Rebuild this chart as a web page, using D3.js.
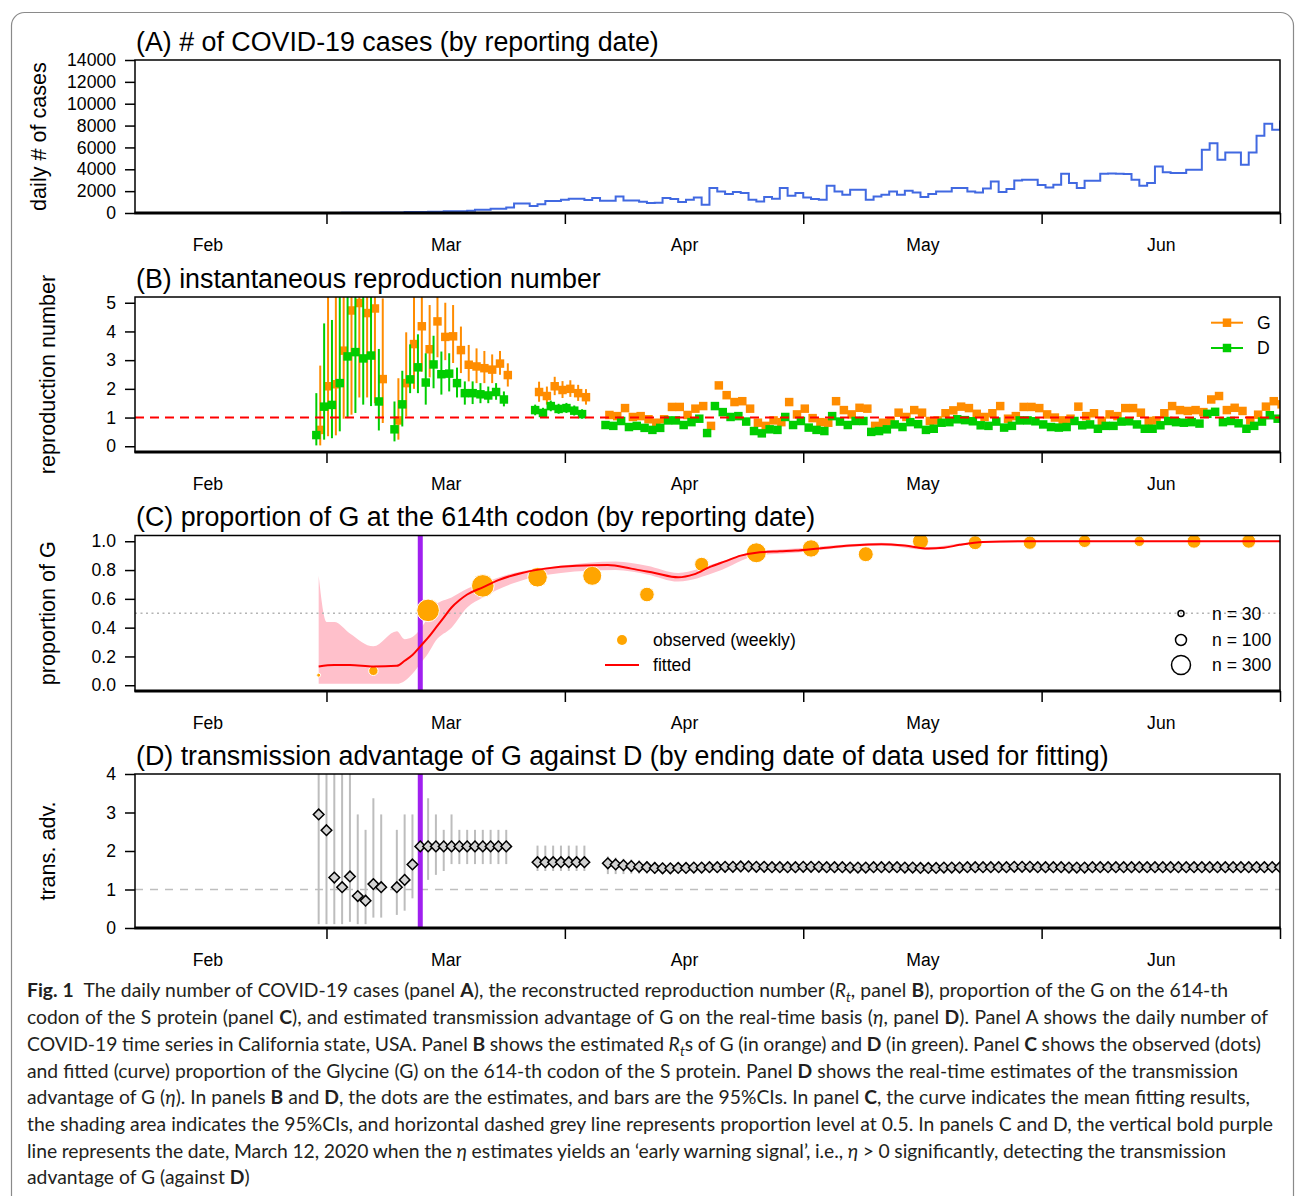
<!DOCTYPE html>
<html><head><meta charset="utf-8">
<script src="https://cdn.jsdelivr.net/npm/d3@7"></script>
<style>
body{margin:0;background:#fff}
</style></head><body>
<svg id="fig" width="1295" height="1196" xmlns="http://www.w3.org/2000/svg"></svg>
<script>
// ---------------- DATA ----------------
// x axis (day of year 2020, Jan 1 = 1)
const tickDays = [60, 90.5, 121, 151.5, 182];
const monthLabelDays = [44.75, 75.25, 105.75, 136.25, 166.75];
const monthLabels = ["Feb", "Mar", "Apr", "May", "Jun"];
const warningDay = 72; // March 12, 2020

// (A) daily cases, days 46..182
const caseStartDay = 46;
const cases = [0,0,0,0,0,0,1,0,2,1,3,2,4,5,8,10,12,16,20,26,34,
 50,50,50,90,90,90,120,120,150,150,150,210,300,300,390,390,510,880,880,640,790,
 1100,1100,1210,1300,1300,1190,1370,1120,1120,1520,1150,1150,1030,910,940,1370,1280,1000,1210,1420,760,
 2280,1970,1730,1920,1830,1210,1060,1460,1310,2280,1580,1830,1420,1280,1210,2490,1970,1670,2130,2130,1210,
 1520,1670,1970,1670,2040,1880,1460,1730,1970,1970,2280,2280,1970,1880,2250,2890,1920,2190,2980,3040,3040,
 2560,2340,2590,3590,2740,2280,2950,2950,3590,3620,3590,3560,3040,2490,2740,4260,3740,3650,3650,3950,3950,
 5780,6390,4870,5530,5530,4410,5530,7060,8160,7610,8460];
const aTicks = [0,2000,4000,6000,8000,10000,12000,14000];

// (B) reproduction numbers (days with estimates)
const estDays = [].concat(d3.range(59,68), d3.range(69,84), d3.range(87,94), d3.range(96,183));
const rG = [0.57,2.09,2.16,3.33,4.73,4.99,4.64,4.80,2.34,
 0.90,2.20,3.56,4.18,3.38,4.35,3.81,3.83,3.35,2.84,2.78,2.72,2.67,2.88,2.48,
 1.89,1.75,2.09,1.96,2.00,1.85,1.71,
 1.09,1.05,1.33,1.02,1.05,0.94,0.82,0.94,1.37,1.37,1.09,1.31,1.40,0.71,2.12,1.78,1.54,1.57,1.31,0.82,0.71,0.90,0.84,1.54,1.11,1.31,0.98,0.84,0.82,1.57,1.26,1.11,1.34,1.31,0.71,0.82,0.88,1.17,1.02,1.26,1.17,0.88,0.90,
 1.15,1.25,1.38,1.33,1.13,1.02,1.15,1.40,0.96,1.05,1.37,1.37,1.33,1.11,1.00,0.90,0.96,1.38,1.05,1.15,0.88,1.11,1.05,1.33,1.33,1.17,0.88,0.90,1.15,1.40,1.26,1.23,1.26,1.19,1.63,1.75,1.26,1.34,1.23,0.90,1.10,1.38,1.57,1.46];
const rD = [0.39,1.38,1.44,2.20,3.13,3.28,3.06,3.16,1.56,
 0.59,1.46,2.33,2.75,2.22,2.85,2.51,2.53,2.20,1.85,1.85,1.81,1.77,1.89,1.63,
 1.26,1.16,1.40,1.30,1.33,1.24,1.12,
 0.74,0.71,0.88,0.67,0.71,0.64,0.57,0.64,0.90,0.90,0.74,0.84,0.96,0.46,1.40,1.19,1.02,1.05,0.86,0.53,0.45,0.59,0.57,1.02,0.74,0.88,0.65,0.57,0.53,1.05,0.86,0.74,0.88,0.88,0.50,0.53,0.59,0.76,0.67,0.84,0.77,0.57,0.61,
 0.82,0.84,0.94,0.91,0.87,0.73,0.71,0.86,0.65,0.71,0.90,0.90,0.87,0.76,0.67,0.65,0.67,0.88,0.73,0.76,0.61,0.71,0.71,0.86,0.87,0.76,0.61,0.61,0.73,0.88,0.84,0.82,0.84,0.79,1.13,1.20,0.84,0.88,0.80,0.61,0.71,0.86,1.08,0.96];
// 95% CIs (visible ones, first 31 estimate days)
const rGlo = [0.03,0.35,0.38,0.96,1.10,1.70,1.70,1.50,0.81, 0.23,1.04,2.00,2.60,2.40,3.10,3.00,2.90,2.55,2.26,2.20,2.20,2.20,2.49,2.08, 1.55,1.45,1.78,1.68,1.72,1.58,1.45];
const rGhi = [2.81,9,9,9,9,9,9,9,5.15, 2.37,3.97,9,9,4.92,9,5.00,4.92,4.17,3.53,3.41,3.32,3.20,3.32,2.89, 2.25,2.08,2.42,2.27,2.30,2.14,1.99];
const rDlo = [0.03,0.23,0.28,0.52,0.98,1.16,1.45,1.40,0.55, 0.17,0.69,1.85,1.85,1.45,2.02,1.80,1.91,1.70,1.45,1.47,1.50,1.50,1.62,1.39, 1.08,0.99,1.22,1.13,1.16,1.07,0.96];
const rDhi = [1.85,4.28,4.40,9,9,9,9,9,3.39, 1.56,2.63,3.55,3.90,3.24,3.85,3.30,3.24,2.74,2.26,2.26,2.20,2.08,2.20,1.91, 1.45,1.34,1.59,1.48,1.51,1.42,1.29];
const bTicks = [0,1,2,3,4,5];
const seriesNames = ["G", "D"];

// (C) proportion of G
const weekDays = [59,66,73,80,87,94,101,108,115,122,129,136,143,150,157,164,171,178];
const weekProp = [0.07,0.10,0.52,0.69,0.75,0.76,0.63,0.84,0.92,0.95,0.91,1.00,0.99,0.99,1.00,1.00,1.00,1.00];
const weekN = [13,73,425,425,320,300,177,163,332,252,187,213,163,149,132,93,163,163];
const fitDays = [59,61,63,66,69,70,71,72,73,74,75,76,77,78,80,82,85,88,92,96,99,102,105,107,109,111,113,115,118,120,123,127,131,134,137,139,141,144,150,182];
const fitProp = [0.13,0.14,0.14,0.13,0.135,0.17,0.21,0.27,0.33,0.40,0.47,0.54,0.59,0.63,0.68,0.73,0.78,0.81,0.83,0.835,0.81,0.78,0.75,0.77,0.82,0.86,0.90,0.92,0.93,0.935,0.95,0.97,0.98,0.97,0.95,0.955,0.975,0.995,1.0,1.0];
const bandDays = [59,60,61,63,66,69,70,71,72,73,74,76,78,80,84,90,97,101,105,110,115,120,127,131,137,141,145,160,182];
const bandHi = [0.76,0.44,0.44,0.36,0.27,0.375,0.32,0.335,0.39,0.47,0.56,0.61,0.67,0.71,0.78,0.83,0.86,0.83,0.78,0.85,0.93,0.95,0.98,0.99,0.96,0.985,1.0,1.0,1.0];
const bandLo = [0.01,0.01,0.01,0.01,0.01,0.01,0.03,0.08,0.15,0.22,0.31,0.40,0.54,0.61,0.71,0.78,0.80,0.77,0.72,0.79,0.90,0.92,0.96,0.97,0.94,0.97,0.99,0.995,0.995];
const cTicks = [0,0.2,0.4,0.6,0.8,1.0];
const nLegend = [30,100,300];

// (D) transmission advantage
const advEst = [2.95,2.54,1.31,1.06,1.34,0.83,0.71,1.14,1.06,
 1.06,1.25,1.65,2.12,2.12,2.12,2.12,2.12,2.12,2.12,2.12,2.12,2.12,2.12,2.12,
 1.71,1.71,1.71,1.71,1.71,1.71,1.71,
 1.68,1.65,1.63,1.61,1.59,1.58,1.56,1.55,1.55,1.56,
 1.56,1.57,1.57,1.58,1.58,1.59,1.59,1.60,1.60,1.59,
 1.59,1.58,1.58,1.58,1.58,1.59,1.59,1.59,1.58,1.58,
 1.58,1.57,1.57,1.57,1.58,1.58,1.58,1.58,1.57,1.57,
 1.56,1.56,1.56,1.57,1.57,1.57,1.58,1.58,1.58,1.58,
 1.58,1.58,1.59,1.59,1.59,1.58,1.58,1.58,1.58,1.57,
 1.57,1.57,1.58,1.58,1.58,1.58,1.58,1.58,1.58,1.58,
 1.58,1.58,1.58,1.58,1.58,1.58,1.58,1.58,1.58,1.58,
 1.58,1.58,1.58,1.58,1.58,1.58,1.58];
const advLo = [0.10,0.10,0.10,0.10,0.16,0.10,0.10,0.27,0.27,
 0.34,0.45,0.77,1.01,1.25,1.38,1.48,1.66,1.66,1.66,1.66,1.66,1.66,1.66,1.66,
 1.48,1.48,1.48,1.48,1.48,1.48,1.48,
 1.40,1.40,1.40,1.41,1.41,1.41,1.41,1.41,1.42,1.42,
 1.42,1.43,1.43,1.43,1.43,1.44,1.44,1.44,1.44,1.44,
 1.44,1.43,1.43,1.43,1.43,1.44,1.44,1.44,1.43,1.43,
 1.43,1.43,1.43,1.43,1.44,1.44,1.44,1.44,1.43,1.43,
 1.42,1.42,1.42,1.43,1.43,1.43,1.44,1.44,1.44,1.44,
 1.44,1.44,1.45,1.45,1.45,1.44,1.44,1.44,1.44,1.43,
 1.43,1.43,1.44,1.44,1.44,1.44,1.44,1.44,1.44,1.44,
 1.44,1.44,1.44,1.44,1.44,1.44,1.44,1.44,1.44,1.44,
 1.44,1.44,1.44,1.44,1.44,1.44,1.44];
const advHi = [6,6,6,6,6,2.95,2.55,3.37,2.95,
 2.55,2.95,2.95,3.78,3.37,2.95,2.55,2.95,2.55,2.55,2.55,2.55,2.55,2.55,2.55,
 2.14,2.14,2.14,2.14,2.14,2.14,2.14,
 1.86,1.83,1.80,1.78,1.76,1.74,1.72,1.70,1.69,1.69,
 1.69,1.70,1.70,1.71,1.71,1.72,1.72,1.73,1.73,1.72,
 1.72,1.71,1.71,1.71,1.71,1.72,1.72,1.72,1.71,1.71,
 1.71,1.70,1.70,1.70,1.71,1.71,1.71,1.71,1.70,1.70,
 1.69,1.69,1.69,1.70,1.70,1.70,1.71,1.71,1.71,1.71,
 1.71,1.71,1.72,1.72,1.72,1.71,1.71,1.71,1.71,1.70,
 1.70,1.70,1.71,1.71,1.71,1.71,1.71,1.71,1.71,1.71,
 1.71,1.71,1.71,1.71,1.71,1.71,1.71,1.71,1.71,1.71,
 1.71,1.71,1.71,1.71,1.71,1.71,1.71];
const dTicks = [0,1,2,3,4];

// caption
const captionLines = [
 [["Fig. 1","b"],["  The daily number of COVID-19 cases (panel "],["A","b"],["), the reconstructed reproduction number ("],["R","i"],["t","sub"],[", panel "],["B","b"],["), proportion of the G on the 614-th"]],
 [["codon of the S protein (panel "],["C","b"],["), and estimated transmission advantage of G on the real-time basis ("],["η","i"],[", panel "],["D","b"],["). Panel A shows the daily number of"]],
 [["COVID-19 time series in California state, USA. Panel "],["B","b"],[" shows the estimated "],["R","i"],["t","sub"],["s of G (in orange) and "],["D","b"],[" (in green). Panel "],["C","b"],[" shows the observed (dots)"]],
 [["and fitted (curve) proportion of the Glycine (G) on the 614-th codon of the S protein. Panel "],["D","b"],[" shows the real-time estimates of the transmission"]],
 [["advantage of G ("],["η","i"],["). In panels "],["B","b"],[" and "],["D","b"],[", the dots are the estimates, and bars are the 95%CIs. In panel "],["C","b"],[", the curve indicates the mean fitting results,"]],
 [["the shading area indicates the 95%CIs, and horizontal dashed grey line represents proportion level at 0.5. In panels C and D, the vertical bold purple"]],
 [["line represents the date, March 12, 2020 when the "],["η","i"],[" estimates yields an \u2018early warning signal\u2019, i.e., "],["η","i"],[" > 0 significantly, detecting the transmission"]],
 [["advantage of G (against "],["D","b"],[")"]]
];

// ---------------- DRAWING ----------------
const FONT = "'Liberation Sans', Arial, Helvetica, sans-serif";
const COL_G = "#FF8C00", COL_D = "#00CD00", PURPLE = "#A020F0";
const X0 = 135, X1 = 1280;
const svg = d3.select("#fig");
const defs = svg.append("defs");

svg.append("rect").attr("x",11.5).attr("y",12.5).attr("width",1282).attr("height",1320)
  .attr("rx",13).attr("fill","none").attr("stroke","#8a8a8a").attr("stroke-width",1.2);

const x = d3.scaleLinear().domain([35.5, 182]).range([X0, X1]);

function makePanel(id, top, bottom, domain){
  const y = d3.scaleLinear().domain(domain).range([bottom, top]);
  defs.append("clipPath").attr("id","clip"+id).append("rect")
    .attr("x",X0).attr("y",top).attr("width",X1-X0).attr("height",bottom-top);
  const plot = svg.append("g").attr("clip-path",`url(#clip${id})`);
  return {id, top, bottom, y, plot};
}

function finishPanel(p, ticks, fmt, title, ylab, ylabX){
  const g = svg.append("g");
  g.append("rect").attr("x",X0).attr("y",p.top).attr("width",X1-X0).attr("height",p.bottom-p.top)
    .attr("fill","none").attr("stroke","#000").attr("stroke-width",1.5);
  g.append("line").attr("x1",X0-0.5).attr("x2",X1+0.5).attr("y1",p.bottom).attr("y2",p.bottom)
    .attr("stroke","#000").attr("stroke-width",3);
  const ya = g.append("g").attr("transform",`translate(${X0},0)`)
    .call(d3.axisLeft(p.y).tickValues(ticks).tickFormat(fmt).tickSize(10).tickPadding(9));
  ya.select(".domain").remove();
  ya.selectAll("line").attr("stroke","#000").attr("stroke-width",1.5);
  ya.selectAll("text").attr("font-size",17.6).attr("font-family",FONT).attr("fill","#000");
  const xa = g.append("g").attr("transform",`translate(0,${p.bottom})`)
    .call(d3.axisBottom(x).tickValues(tickDays).tickFormat("").tickSize(11));
  xa.select(".domain").remove();
  xa.selectAll("line").attr("stroke","#000").attr("stroke-width",1.5);
  const xl = g.append("g").attr("transform",`translate(0,${p.bottom})`)
    .call(d3.axisBottom(x).tickValues(monthLabelDays).tickFormat((d,i)=>monthLabels[i]).tickSize(0).tickPadding(26));
  xl.select(".domain").remove();
  xl.selectAll("text").attr("font-size",17.6).attr("font-family",FONT).attr("fill","#000");
  g.append("text").attr("x",136).attr("y",p.top-9.4).attr("font-family",FONT).attr("font-size",26.8)
    .attr("fill","#000").text(title);
  g.append("text").attr("transform",`translate(${ylabX},${(p.top+p.bottom)/2}) rotate(-90)`)
    .attr("text-anchor","middle").attr("dominant-baseline","central")
    .attr("font-family",FONT).attr("font-size",21.6).attr("fill","#000").text(ylab);
}

// ---- Panel A ----
const PA = makePanel("A", 60, 213, [0, 14000]);
const caseData = cases.map((v,i)=>[caseStartDay+i, v]);
PA.plot.append("path").datum(caseData)
  .attr("d", d3.line().x(d=>x(d[0])).y(d=>PA.y(d[1])).curve(d3.curveStepAfter))
  .attr("fill","none").attr("stroke","#4169E1").attr("stroke-width",2);
finishPanel(PA, aTicks, d3.format("d"), "(A) # of COVID-19 cases (by reporting date)", "daily # of cases", 38);

// ---- Panel B ----
const PB = makePanel("B", 297, 452, [-0.2, 5.2]);
const sq = d3.symbol().type(d3.symbolSquare).size(72);
function drawSeries(vals, lo, hi, color, off){
  const ci = lo.map((l,i)=>({d:estDays[i], lo:l, hi:hi[i]}));
  PB.plot.append("g").selectAll("line").data(ci).join("line")
    .attr("x1",d=>x(d.d+off)).attr("x2",d=>x(d.d+off))
    .attr("y1",d=>PB.y(d.lo)).attr("y2",d=>PB.y(d.hi))
    .attr("stroke",color).attr("stroke-width",2);
  PB.plot.append("g").selectAll("path").data(vals.map((v,i)=>({d:estDays[i], v}))).join("path")
    .attr("d",sq).attr("transform",d=>`translate(${x(d.d+off)},${PB.y(d.v)})`).attr("fill",color);
}
drawSeries(rG, rGlo, rGhi, COL_G, 0.2);
drawSeries(rD, rDlo, rDhi, COL_D, -0.3);
PB.plot.append("line").attr("x1",X0).attr("x2",X1).attr("y1",PB.y(1)).attr("y2",PB.y(1))
  .attr("stroke","#FF0000").attr("stroke-width",2).attr("stroke-dasharray","9,6");
// legend
const legB = svg.append("g");
[[COL_G, seriesNames[0], 322.7],[COL_D, seriesNames[1], 348]].forEach(([c,t,yy])=>{
  legB.append("line").attr("x1",1211).attr("x2",1243).attr("y1",yy).attr("y2",yy).attr("stroke",c).attr("stroke-width",2);
  legB.append("path").attr("d",sq).attr("transform",`translate(1227,${yy})`).attr("fill",c);
  legB.append("text").attr("x",1257).attr("y",yy).attr("dominant-baseline","central")
    .attr("font-family",FONT).attr("font-size",17.6).text(t);
});
finishPanel(PB, bTicks, d3.format("d"), "(B) instantaneous reproduction number", "reproduction number", 47);

// ---- Panel C ----
const PC = makePanel("C", 535.5, 691, [-0.04, 1.04]);
const band = bandDays.map((d,i)=>({d, lo:bandLo[i], hi:bandHi[i]}));
PC.plot.append("path").datum(band)
  .attr("d", d3.area().x(d=>x(d.d)).y0(d=>PC.y(d.lo)).y1(d=>PC.y(d.hi)).curve(d3.curveMonotoneX))
  .attr("fill","#FFC0CB");
PC.plot.append("line").attr("x1",X0).attr("x2",X1).attr("y1",PC.y(0.5)).attr("y2",PC.y(0.5))
  .attr("stroke","#B4B4B4").attr("stroke-width",1.5).attr("stroke-dasharray","2,3.5");
PC.plot.append("line").attr("x1",x(warningDay)).attr("x2",x(warningDay)).attr("y1",PC.top).attr("y2",PC.bottom)
  .attr("stroke",PURPLE).attr("stroke-width",5);
const rScale = d3.scaleSqrt().domain([0, 300]).range([0, 9.5]);
PC.plot.append("g").selectAll("circle").data(weekDays.map((d,i)=>({d, p:weekProp[i], n:weekN[i]}))).join("circle")
  .attr("cx",d=>x(d.d)).attr("cy",d=>PC.y(d.p)).attr("r",d=>rScale(d.n))
  .attr("fill","#FFA500").attr("stroke","#fff").attr("stroke-width",1);
PC.plot.append("path").datum(fitDays.map((d,i)=>[d, fitProp[i]]))
  .attr("d", d3.line().x(d=>x(d[0])).y(d=>PC.y(d[1])).curve(d3.curveMonotoneX))
  .attr("fill","none").attr("stroke","#FF0000").attr("stroke-width",2);
// legends
const legC = svg.append("g").attr("font-family",FONT).attr("font-size",17.6);
legC.append("circle").attr("cx",622).attr("cy",640).attr("r",5).attr("fill","#FFA500");
legC.append("text").attr("x",653).attr("y",640).attr("dominant-baseline","central").text("observed (weekly)");
legC.append("line").attr("x1",605).attr("x2",639).attr("y1",665).attr("y2",665).attr("stroke","#FF0000").attr("stroke-width",2);
legC.append("text").attr("x",653).attr("y",665).attr("dominant-baseline","central").text("fitted");
[613.5, 640, 665].forEach((yy,i)=>{
  legC.append("circle").attr("cx",1181).attr("cy",yy).attr("r",rScale(nLegend[i]))
    .attr("fill","none").attr("stroke","#000").attr("stroke-width",1.5);
  legC.append("text").attr("x",1212).attr("y",yy).attr("dominant-baseline","central").text("n = " + nLegend[i]);
});
finishPanel(PC, cTicks, d3.format(".1f"), "(C) proportion of G at the 614th codon (by reporting date)", "proportion of G", 47);

// ---- Panel D ----
const PD = makePanel("D", 774, 928, [0, 4]);
PD.plot.append("line").attr("x1",X0).attr("x2",X1).attr("y1",PD.y(1)).attr("y2",PD.y(1))
  .attr("stroke","#BEBEBE").attr("stroke-width",1.5).attr("stroke-dasharray","8,7");
const adv = estDays.map((d,i)=>({d, v:advEst[i], lo:advLo[i], hi:advHi[i]}));
PD.plot.append("g").selectAll("line").data(adv).join("line")
  .attr("x1",d=>x(d.d)).attr("x2",d=>x(d.d)).attr("y1",d=>PD.y(d.lo)).attr("y2",d=>PD.y(d.hi))
  .attr("stroke","#BDBDBD").attr("stroke-width",2);
PD.plot.append("line").attr("x1",x(warningDay)).attr("x2",x(warningDay)).attr("y1",PD.top).attr("y2",PD.bottom)
  .attr("stroke",PURPLE).attr("stroke-width",5);
const diamond = "M0,-5.3L5.3,0L0,5.3L-5.3,0Z";
PD.plot.append("g").selectAll("path").data(adv).join("path")
  .attr("d",diamond).attr("transform",d=>`translate(${x(d.d)},${PD.y(d.v)})`)
  .attr("fill","#D3D3D3").attr("stroke","#000").attr("stroke-width",1.5);
finishPanel(PD, dTicks, d3.format("d"), "(D) transmission advantage of G against D (by ending date of data used for fitting)", "trans. adv.", 47);

// ---- Caption ----
const capBase = [997, 1024, 1051, 1077.5, 1104, 1131, 1157.5, 1184];
const capEnds = [1228, 1268, 1261, 1238, 1250, 1273, 1226, null];
const CAPX = 27;
const capG = svg.append("g");
function drawCaption(fs){
  capG.selectAll("*").remove();
  return captionLines.map((segs,i)=>{
    const t = capG.append("text").attr("x",CAPX).attr("y",capBase[i])
      .attr("font-family","Lato, 'Open Sans', 'Noto Sans', sans-serif").attr("font-size",fs)
      .attr("fill","#231f20").attr("xml:space","preserve").style("white-space","pre");
    let up = false;
    segs.forEach(([s,st])=>{
      const ts = t.append("tspan").text(s);
      if(st==="b") ts.attr("font-weight","bold");
      if(st==="i") ts.attr("font-style","italic");
      if(st==="sub"){ ts.attr("font-style","italic").attr("font-size",fs*0.7).attr("dy",fs*0.28); up = true; }
      else if(up){ ts.attr("dy",-fs*0.28); up = false; }
    });
    return t;
  });
}
let texts = drawCaption(18);
let natSum = 0, tgtSum = 0;
texts.forEach((t,i)=>{ if(capEnds[i]){ natSum += t.node().getComputedTextLength(); tgtSum += capEnds[i]-CAPX; }});
let fs = 18 * tgtSum / natSum;
fs = Math.max(16, Math.min(20, fs));
texts = drawCaption(fs);
texts.forEach((t,i)=>{
  if(!capEnds[i]) return;
  const nat = t.node().getComputedTextLength();
  const full = captionLines[i].map(s=>s[0]).join("");
  const spaces = (full.match(/ /g)||[]).length;
  if(spaces) t.style("word-spacing", ((capEnds[i]-CAPX-nat)/spaces) + "px");
});
</script></body></html>
